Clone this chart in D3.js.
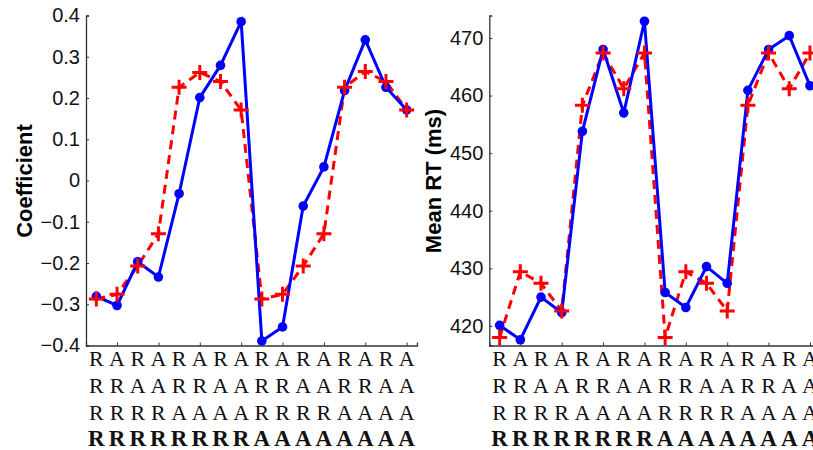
<!DOCTYPE html>
<html>
<head>
<meta charset="utf-8">
<script src="https://cdn.jsdelivr.net/npm/d3@7"></script>
<style>
  body { margin: 0; background: #fff; }
  svg { display: block; }
</style>
</head>
<body>
<svg id="Viz" width="813" height="450"></svg>
<script>
// sequences (x tick label rows)
var row1 = "RARARARARARARARA".split("");
var row2 = "RRAARRAARRAARRAA".split("");
var row3 = "RRRRAAAARRRRAAAA".split("");
var row4 = "RRRRRRRRAAAAAAAA".split("");
var positions = d3.range(1, 17);

// left panel: coefficients
var coefBlue = [-0.281, -0.303, -0.197, -0.234, -0.032, 0.201, 0.279, 0.385,
                -0.389, -0.355, -0.062, 0.033, 0.218, 0.341, 0.226, 0.171];
var coefRed = [-0.287, -0.276, -0.207, -0.129, 0.226, 0.262, 0.240, 0.171,
               -0.287, -0.276, -0.207, -0.129, 0.226, 0.264, 0.240, 0.171];
var coefTicks = [-0.4, -0.3, -0.2, -0.1, 0, 0.1, 0.2, 0.3, 0.4];

// right panel: mean RT
var rtBlue = [420.1, 417.6, 425.0, 422.3, 453.8, 468.0, 457.0, 472.9,
              425.8, 423.2, 430.3, 427.4, 460.9, 468.0, 470.4, 461.7];
var rtRed = [418.0, 429.4, 427.4, 422.6, 458.3, 467.4, 461.2, 467.4,
             418.0, 429.4, 427.4, 422.6, 458.3, 467.4, 461.2, 467.4];
var rtTicks = [420, 430, 440, 450, 460, 470];

var svg = d3.select("#Viz");

function panel(opt) {
  var g = svg.append("g");
  var x = d3.scaleLinear().domain([0.5, 16.5]).range([opt.left, opt.left + 331]);
  var y = d3.scaleLinear().domain(opt.domain).range([345.5, 15.5]);

  // y axis
  var ya = g.append("g")
      .attr("transform", "translate(" + opt.left + ",0)")
      .call(d3.axisLeft(y).tickValues(opt.ticks).tickSize(-3).tickPadding(6)
        .tickFormat(opt.fmt));
  ya.select(".domain").attr("stroke", "#333").attr("stroke-width", 1.3);
  ya.selectAll(".tick line").attr("stroke", "#333");
  ya.selectAll("text")
      .attr("font-family", "Liberation Sans, Arial, sans-serif")
      .attr("font-size", 20)
      .attr("fill", "#111");

  // x axis
  var xa = g.append("g")
      .attr("transform", "translate(0,345.5)")
      .call(d3.axisBottom(x).tickValues([2, 4, 6, 8, 10, 12, 14, 16]).tickSize(-3).tickFormat(""));
  xa.select(".domain").attr("stroke", "#333").attr("stroke-width", 1.3);
  xa.selectAll(".tick line").attr("stroke", "#333");

  // y label
  g.append("text")
      .attr("transform", "translate(" + opt.labelX + ",181) rotate(-90)")
      .attr("text-anchor", "middle")
      .attr("font-family", "Liberation Sans, Arial, sans-serif")
      .attr("font-weight", "bold")
      .attr("font-size", 22)
      .text(opt.label);

  // tick label rows
  [row1, row2, row3, row4].forEach(function(row, i) {
    g.append("g").selectAll("text")
      .data(row)
      .enter().append("text")
      .attr("x", function(d, j) { return x(positions[j]); })
      .attr("y", 366 + i * 26.8)
      .attr("text-anchor", "middle")
      .attr("font-family", "Liberation Serif, Times New Roman, serif")
      .attr("font-size", i === 3 ? 23 : 22)
      .attr("font-weight", i === 3 ? "bold" : "normal")
      .attr("fill", "#111")
      .text(function(d) { return d; });
  });

  var line = d3.line()
    .x(function(d, i) { return x(positions[i]); })
    .y(function(d) { return y(d); });

  // red dashed with plus markers
  g.append("path")
      .datum(opt.red)
      .attr("d", line)
      .attr("fill", "none")
      .attr("stroke", "#ff0000")
      .attr("stroke-width", 3)
      .attr("stroke-dasharray", "9,6");

  // blue solid with dots
  g.append("path")
      .datum(opt.blue)
      .attr("d", line)
      .attr("fill", "none")
      .attr("stroke", "#0000ff")
      .attr("stroke-width", 3);

  g.append("g").selectAll("circle")
    .data(opt.blue)
    .enter().append("circle")
      .attr("cx", function(d, i) { return x(positions[i]); })
      .attr("cy", function(d) { return y(d); })
      .attr("r", 4.8)
      .attr("fill", "#0000ff");

  g.append("g").selectAll("path")
    .data(opt.red)
    .enter().append("path")
      .attr("d", function(d, i) {
        var cx = x(positions[i]), cy = y(d), s = 7.5;
        return "M" + (cx - s) + "," + cy + "H" + (cx + s) + "M" + cx + "," + (cy - s) + "V" + (cy + s);
      })
      .attr("stroke", "#ff0000")
      .attr("stroke-width", 3)
      .attr("fill", "none");
}

panel({
  left: 86, domain: [-0.4, 0.4], ticks: coefTicks,
  fmt: function(d) { return d === 0 ? "0" : d3.format(".1f")(d).replace("-", "\u2212"); },
  blue: coefBlue, red: coefRed, label: "Coefficient", labelX: 32
});

panel({
  left: 489.3, domain: [416.6, 473.9], ticks: rtTicks,
  fmt: d3.format("d"),
  blue: rtBlue, red: rtRed, label: "Mean RT (ms)", labelX: 441
});
</script>
</body>
</html>
